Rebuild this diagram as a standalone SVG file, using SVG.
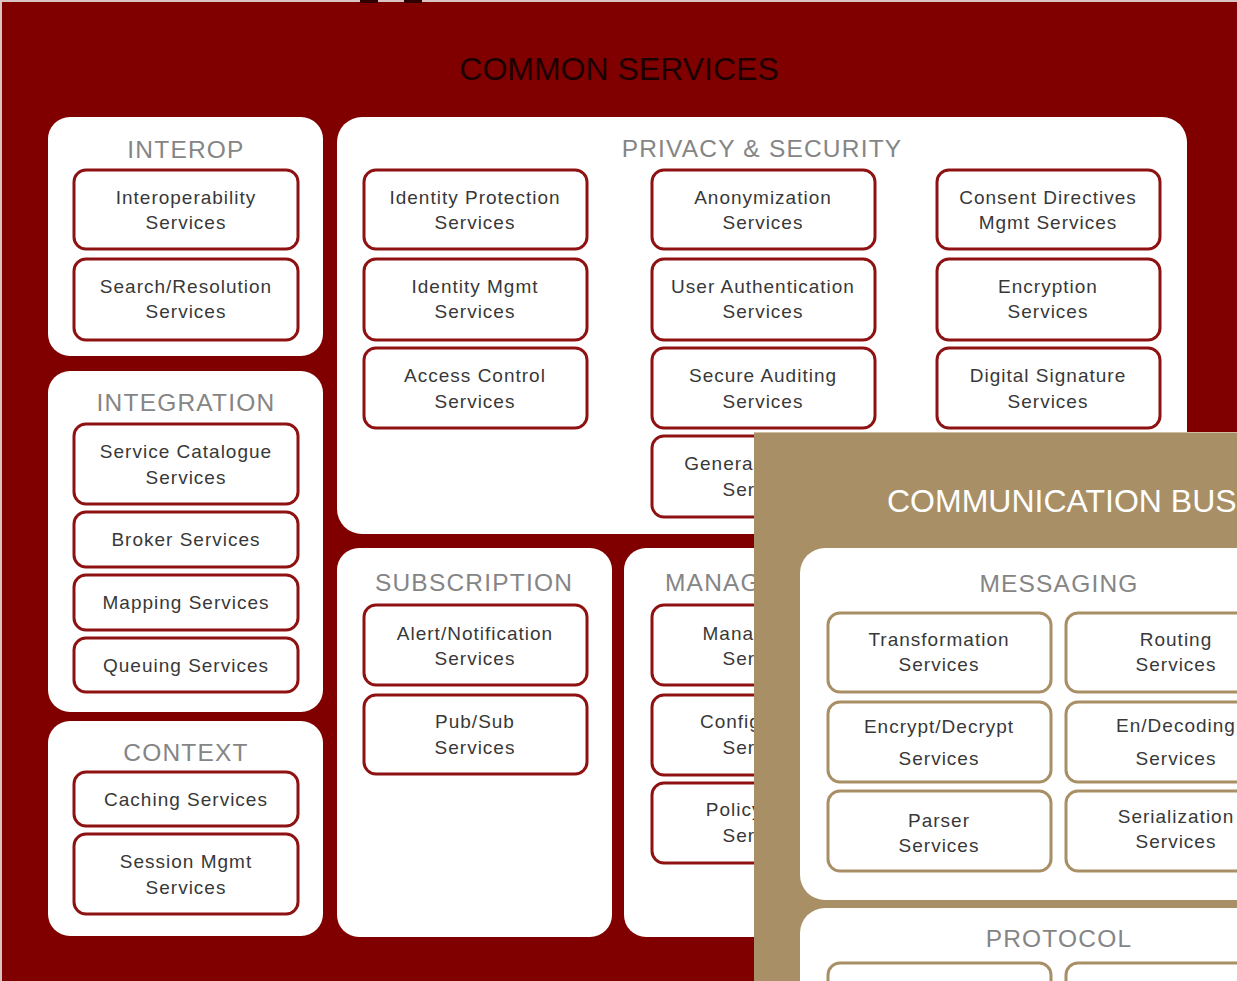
<svg xmlns="http://www.w3.org/2000/svg" width="1237" height="981" viewBox="0 0 1237 981">
<style>
.panel{fill:#fff}
.box{fill:#fff;stroke:#8e1212;stroke-width:3}
.mbox{fill:#fff;stroke:#a88f65;stroke-width:3}
.title{font-family:"Liberation Sans",Arial,sans-serif;font-size:24.5px;fill:#858585;letter-spacing:1.2px;text-anchor:middle}
.lbl{font-family:"Liberation Sans",Arial,sans-serif;font-size:19px;fill:#383838;letter-spacing:1px;text-anchor:middle}
.big{font-family:"Liberation Sans",Arial,sans-serif;font-size:32px}
</style>
<rect x="0" y="0" width="1237" height="981" fill="#d9c4c4"/>
<rect x="2" y="2" width="1235" height="979" fill="#800000"/>
<rect x="360" y="0" width="18" height="3" fill="#300000"/>
<rect x="404" y="0" width="18" height="3" fill="#300000"/>
<text x="619" y="80" class="big" fill="#1a0000" text-anchor="middle">COMMON SERVICES</text>

<g id="interop">
<rect class="panel" x="48" y="117" width="275" height="239" rx="22"/>
<text class="title" x="186" y="158">INTEROP</text>
<rect class="box" x="74" y="170" width="224" height="79" rx="12"/>
<text class="lbl" x="186" y="204">Interoperability</text><text class="lbl" x="186" y="229">Services</text>
<rect class="box" x="74" y="259" width="224" height="81" rx="12"/>
<text class="lbl" x="186" y="293">Search/Resolution</text><text class="lbl" x="186" y="318">Services</text>
</g>

<g id="integration">
<rect class="panel" x="48" y="371" width="275" height="341" rx="22"/>
<text class="title" x="186" y="411">INTEGRATION</text>
<rect class="box" x="74" y="424" width="224" height="80" rx="12"/>
<text class="lbl" x="186" y="458">Service Catalogue</text><text class="lbl" x="186" y="484">Services</text>
<rect class="box" x="74" y="512" width="224" height="55" rx="12"/>
<text class="lbl" x="186" y="546">Broker Services</text>
<rect class="box" x="74" y="575" width="224" height="55" rx="12"/>
<text class="lbl" x="186" y="609">Mapping Services</text>
<rect class="box" x="74" y="638" width="224" height="54" rx="12"/>
<text class="lbl" x="186" y="672">Queuing Services</text>
</g>

<g id="context">
<rect class="panel" x="48" y="721" width="275" height="215" rx="22"/>
<text class="title" x="186" y="761">CONTEXT</text>
<rect class="box" x="74" y="772" width="224" height="54" rx="12"/>
<text class="lbl" x="186" y="806">Caching Services</text>
<rect class="box" x="74" y="834" width="224" height="80" rx="12"/>
<text class="lbl" x="186" y="868">Session Mgmt</text><text class="lbl" x="186" y="894">Services</text>
</g>

<g id="privacy">
<rect class="panel" x="337" y="117" width="850" height="417" rx="25"/>
<text class="title" x="762" y="157">PRIVACY &amp; SECURITY</text>
<rect class="box" x="364" y="170" width="223" height="79" rx="12"/>
<text class="lbl" x="475" y="204">Identity Protection</text><text class="lbl" x="475" y="229">Services</text>
<rect class="box" x="364" y="259" width="223" height="81" rx="12"/>
<text class="lbl" x="475" y="293">Identity Mgmt</text><text class="lbl" x="475" y="318">Services</text>
<rect class="box" x="364" y="348" width="223" height="80" rx="12"/>
<text class="lbl" x="475" y="382">Access Control</text><text class="lbl" x="475" y="408">Services</text>
<rect class="box" x="652" y="170" width="223" height="79" rx="12"/>
<text class="lbl" x="763" y="204">Anonymization</text><text class="lbl" x="763" y="229">Services</text>
<rect class="box" x="652" y="259" width="223" height="81" rx="12"/>
<text class="lbl" x="763" y="293">User Authentication</text><text class="lbl" x="763" y="318">Services</text>
<rect class="box" x="652" y="348" width="223" height="80" rx="12"/>
<text class="lbl" x="763" y="382">Secure Auditing</text><text class="lbl" x="763" y="408">Services</text>
<rect class="box" x="652" y="436" width="223" height="81" rx="12"/>
<text class="lbl" x="763" y="470">General Security</text><text class="lbl" x="763" y="496">Services</text>
<rect class="box" x="937" y="170" width="223" height="79" rx="12"/>
<text class="lbl" x="1048" y="204">Consent Directives</text><text class="lbl" x="1048" y="229">Mgmt Services</text>
<rect class="box" x="937" y="259" width="223" height="81" rx="12"/>
<text class="lbl" x="1048" y="293">Encryption</text><text class="lbl" x="1048" y="318">Services</text>
<rect class="box" x="937" y="348" width="223" height="80" rx="12"/>
<text class="lbl" x="1048" y="382">Digital Signature</text><text class="lbl" x="1048" y="408">Services</text>
</g>

<g id="subscription">
<rect class="panel" x="337" y="548" width="275" height="389" rx="22"/>
<text class="title" x="474" y="591">SUBSCRIPTION</text>
<rect class="box" x="364" y="605" width="223" height="80" rx="12"/>
<text class="lbl" x="475" y="640">Alert/Notification</text><text class="lbl" x="475" y="665">Services</text>
<rect class="box" x="364" y="695" width="223" height="79" rx="12"/>
<text class="lbl" x="475" y="728">Pub/Sub</text><text class="lbl" x="475" y="754">Services</text>
</g>

<g id="management">
<rect class="panel" x="624" y="548" width="560" height="389" rx="22"/>
<text class="title" x="665" y="591" style="text-anchor:start">MANAGEMENT</text>
<rect class="box" x="652" y="605" width="223" height="80" rx="12"/>
<text class="lbl" x="763" y="640">Management</text><text class="lbl" x="763" y="665">Services</text>
<rect class="box" x="652" y="695" width="223" height="80" rx="12"/>
<text class="lbl" x="763" y="728">Configuration</text><text class="lbl" x="763" y="754">Services</text>
<rect class="box" x="652" y="783" width="223" height="80" rx="12"/>
<text class="lbl" x="763" y="816">Policy Mgmt</text><text class="lbl" x="763" y="842">Services</text>
</g>

<g id="communication-bus">
<rect x="754" y="432" width="483" height="549" fill="#a88f65"/>
<line x1="754" y1="432.5" x2="1237" y2="432.5" stroke="#cfc0a4" stroke-width="1"/>
<text x="887" y="512" font-family="Liberation Sans, Arial, sans-serif" font-size="32" fill="#fff">COMMUNICATION BUS</text>
</g>

<g id="messaging">
<rect class="panel" x="800" y="548" width="470" height="352" rx="25"/>
<text class="title" x="1059" y="592">MESSAGING</text>
<rect class="mbox" x="828" y="613" width="223" height="79" rx="12"/>
<text class="lbl" x="939" y="646">Transformation</text><text class="lbl" x="939" y="671">Services</text>
<rect class="mbox" x="1066" y="613" width="223" height="79" rx="12"/>
<text class="lbl" x="1176" y="646">Routing</text><text class="lbl" x="1176" y="671">Services</text>
<rect class="mbox" x="828" y="702" width="223" height="80" rx="12"/>
<text class="lbl" x="939" y="733">Encrypt/Decrypt</text><text class="lbl" x="939" y="765">Services</text>
<rect class="mbox" x="1066" y="702" width="223" height="80" rx="12"/>
<text class="lbl" x="1176" y="732">En/Decoding</text><text class="lbl" x="1176" y="765">Services</text>
<rect class="mbox" x="828" y="791" width="223" height="80" rx="12"/>
<text class="lbl" x="939" y="827">Parser</text><text class="lbl" x="939" y="852">Services</text>
<rect class="mbox" x="1066" y="791" width="223" height="80" rx="12"/>
<text class="lbl" x="1176" y="823">Serialization</text><text class="lbl" x="1176" y="848">Services</text>
</g>

<g id="protocol">
<rect class="panel" x="800" y="908" width="470" height="120" rx="25"/>
<text class="title" x="1059" y="947">PROTOCOL</text>
<rect class="mbox" x="828" y="963" width="223" height="60" rx="12"/>
<rect class="mbox" x="1066" y="963" width="223" height="60" rx="12"/>
</g>
<g id="connectors"/>
</svg>
